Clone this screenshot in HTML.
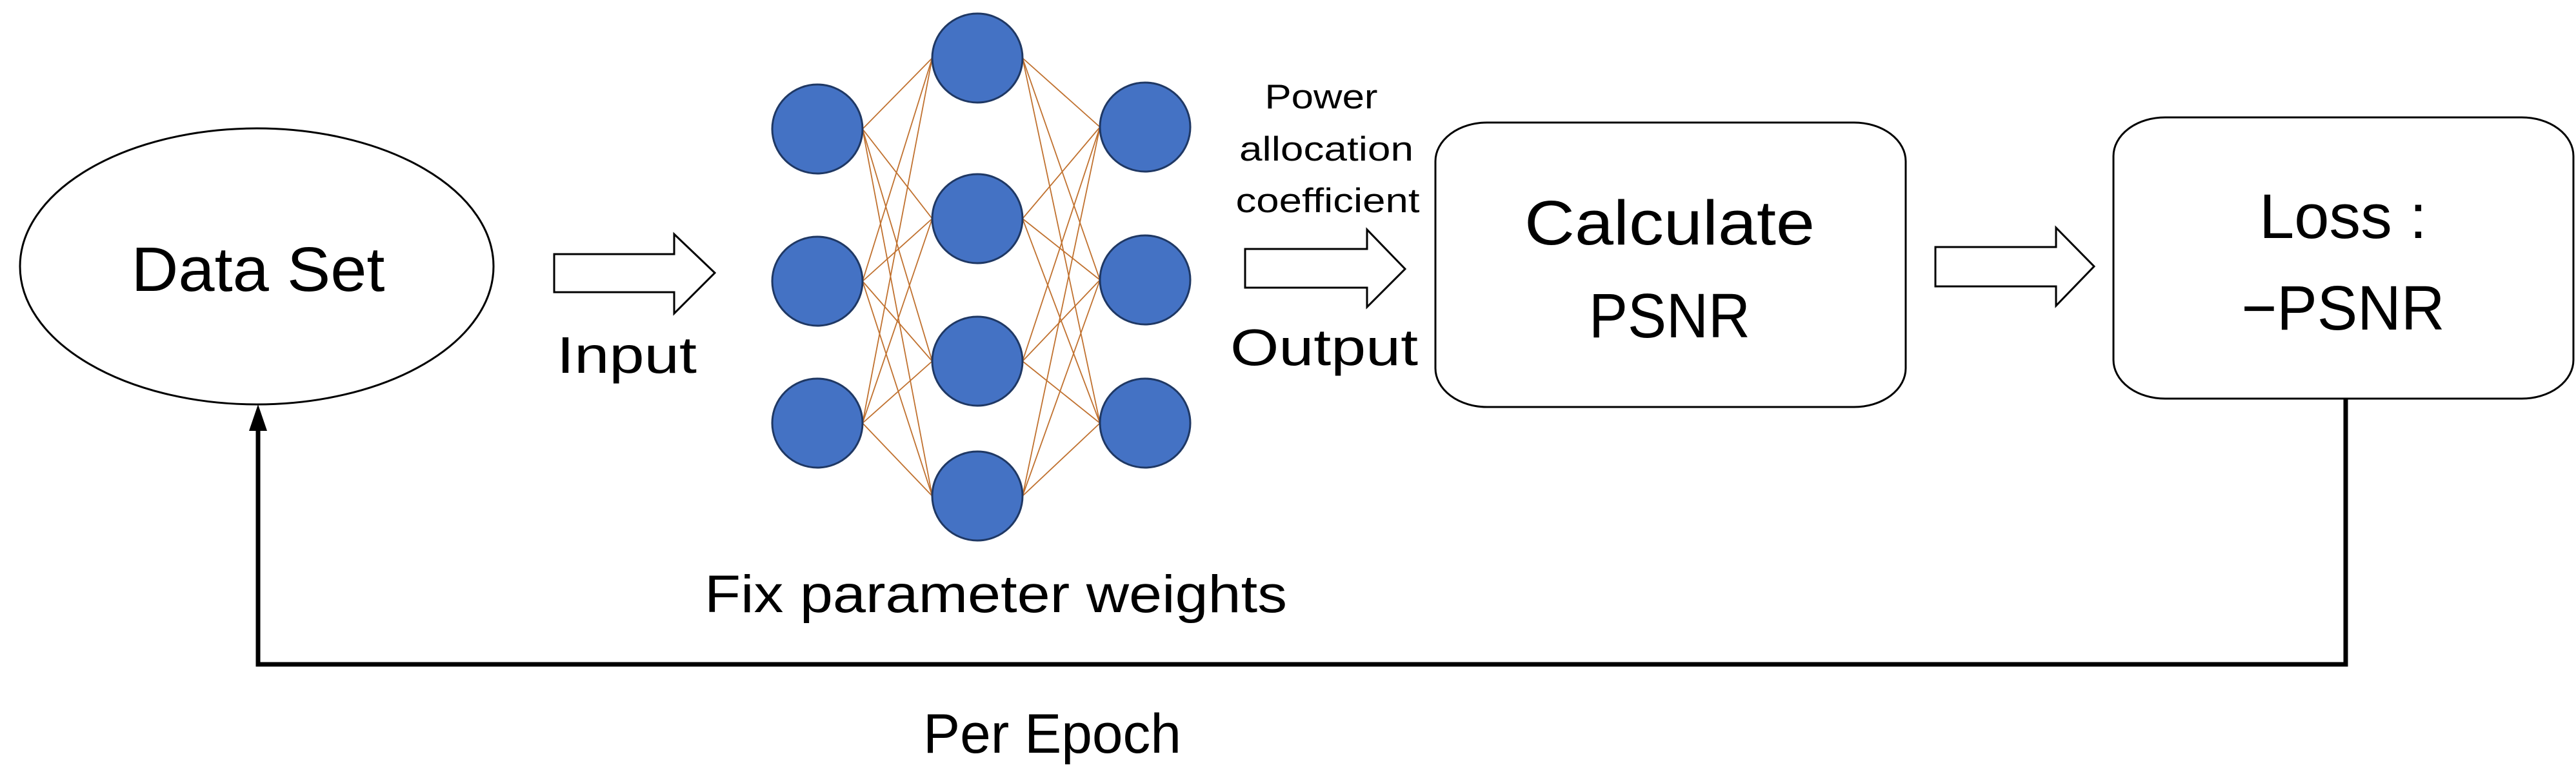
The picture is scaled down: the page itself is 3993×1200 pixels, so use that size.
<!DOCTYPE html>
<html><head><meta charset="utf-8"><style>html,body{margin:0;padding:0;background:#fff}svg{display:block}</style></head>
<body>
<svg width="3993" height="1200" viewBox="0 0 3993 1200" xmlns="http://www.w3.org/2000/svg" font-family="Liberation Sans, sans-serif" fill="#000">
<rect width="3993" height="1200" fill="#fff"/>
<ellipse cx="398" cy="413" rx="367" ry="214" fill="#fff" stroke="#000" stroke-width="3"/>
<text x="400" y="451" font-size="97" text-anchor="middle" textLength="393" lengthAdjust="spacingAndGlyphs">Data Set</text>
<!-- arrows -->
<polygon points="859,394 1045,394 1045,363 1108,423 1045,486 1045,453 859,453" fill="#fff" stroke="#000" stroke-width="3"/>
<polygon points="1930,386 2119,386 2119,356 2178,417 2119,476 2119,446 1930,446" fill="#fff" stroke="#000" stroke-width="3"/>
<polygon points="3000,383 3187,383 3187,353 3246,413 3187,474 3187,444 3000,444" fill="#fff" stroke="#000" stroke-width="3"/>
<text x="863" y="578" font-size="80" textLength="217" lengthAdjust="spacingAndGlyphs">Input</text>
<text x="1907" y="566" font-size="80" textLength="291" lengthAdjust="spacingAndGlyphs">Output</text>
<text x="2048" y="168" font-size="53" text-anchor="middle" textLength="175" lengthAdjust="spacingAndGlyphs">Power</text>
<text x="2056" y="249" font-size="53" text-anchor="middle" textLength="270" lengthAdjust="spacingAndGlyphs">allocation</text>
<text x="2058" y="329" font-size="53" text-anchor="middle" textLength="285" lengthAdjust="spacingAndGlyphs">coefficient</text>
<!-- NN edges -->
<g stroke="#c0712f" stroke-width="1.8">
<line x1="1337" y1="200" x2="1445" y2="90"/><line x1="1337" y1="200" x2="1445" y2="339"/><line x1="1337" y1="200" x2="1445" y2="560"/><line x1="1337" y1="200" x2="1445" y2="769"/>
<line x1="1337" y1="436" x2="1445" y2="90"/><line x1="1337" y1="436" x2="1445" y2="339"/><line x1="1337" y1="436" x2="1445" y2="560"/><line x1="1337" y1="436" x2="1445" y2="769"/>
<line x1="1337" y1="656" x2="1445" y2="90"/><line x1="1337" y1="656" x2="1445" y2="339"/><line x1="1337" y1="656" x2="1445" y2="560"/><line x1="1337" y1="656" x2="1445" y2="769"/>
<line x1="1585" y1="90" x2="1705" y2="197"/><line x1="1585" y1="90" x2="1705" y2="434"/><line x1="1585" y1="90" x2="1705" y2="656"/>
<line x1="1585" y1="339" x2="1705" y2="197"/><line x1="1585" y1="339" x2="1705" y2="434"/><line x1="1585" y1="339" x2="1705" y2="656"/>
<line x1="1585" y1="560" x2="1705" y2="197"/><line x1="1585" y1="560" x2="1705" y2="434"/><line x1="1585" y1="560" x2="1705" y2="656"/>
<line x1="1585" y1="769" x2="1705" y2="197"/><line x1="1585" y1="769" x2="1705" y2="434"/><line x1="1585" y1="769" x2="1705" y2="656"/>
</g>
<g fill="#4472c4" stroke="#1f3864" stroke-width="3">
<ellipse cx="1267" cy="200" rx="70" ry="69"/><ellipse cx="1267" cy="436" rx="70" ry="69"/><ellipse cx="1267" cy="656" rx="70" ry="69"/>
<ellipse cx="1515" cy="90" rx="70" ry="69"/><ellipse cx="1515" cy="339" rx="70" ry="69"/><ellipse cx="1515" cy="560" rx="70" ry="69"/><ellipse cx="1515" cy="769" rx="70" ry="69"/>
<ellipse cx="1775" cy="197" rx="70" ry="69"/><ellipse cx="1775" cy="434" rx="70" ry="69"/><ellipse cx="1775" cy="656" rx="70" ry="69"/>
</g>
<text x="1092" y="949" font-size="82" textLength="903" lengthAdjust="spacingAndGlyphs">Fix parameter weights</text>
<!-- boxes -->
<rect x="2225" y="190" width="729" height="441" rx="80" ry="60" fill="#fff" stroke="#000" stroke-width="3"/>
<text x="2588" y="379" font-size="97" text-anchor="middle" textLength="450" lengthAdjust="spacingAndGlyphs">Calculate</text>
<text x="2588" y="523" font-size="97" text-anchor="middle" textLength="250" lengthAdjust="spacingAndGlyphs">PSNR</text>
<rect x="3276" y="182" width="713" height="436" rx="80" ry="60" fill="#fff" stroke="#000" stroke-width="3"/>
<text x="3632" y="369" font-size="97" text-anchor="middle" textLength="260" lengthAdjust="spacingAndGlyphs">Loss :</text>
<text x="3632" y="511" font-size="97" text-anchor="middle" textLength="315" lengthAdjust="spacingAndGlyphs">−PSNR</text>
<!-- feedback -->
<polyline points="3636,618 3636,1030 400,1030 400,660" fill="none" stroke="#000" stroke-width="7"/>
<polygon points="400,627 386,668 414,668" fill="#000"/>
<text x="1431" y="1167" font-size="86" textLength="400" lengthAdjust="spacingAndGlyphs">Per Epoch</text>
</svg>
</body></html>
